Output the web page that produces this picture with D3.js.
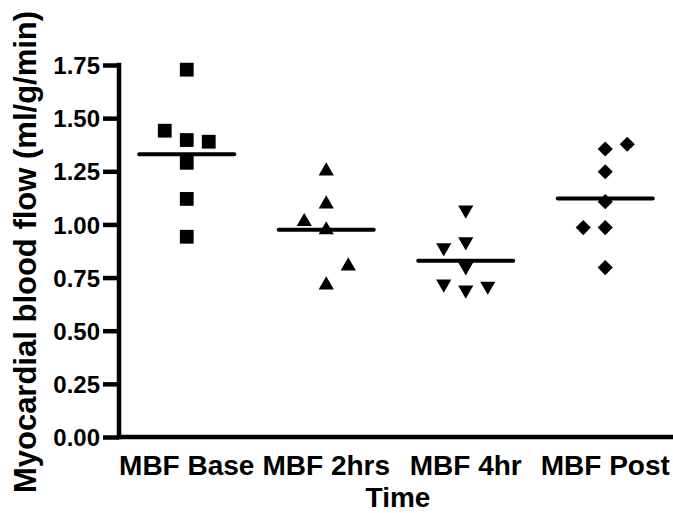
<!DOCTYPE html>
<html>
<head>
<meta charset="utf-8">
<script src="https://cdn.jsdelivr.net/npm/d3@7"></script>
<style>
  body { margin: 0; background: #fff; }
  text { font-family: "Liberation Sans", Arial, sans-serif; font-weight: bold; fill: #000; }
</style>
</head>
<body>
<svg id="chart" width="673" height="513"></svg>
<script>
// ---- data ----
const categories = ["MBF Base", "MBF 2hrs", "MBF 4hr", "MBF Post"];
const baseValues = [1.728, 1.441, 1.397, 1.389, 1.290, 1.120, 0.942];
const baseDodge  = [0, -1, 0, 1, 0, 0, 0];
const hrs2Values = [1.251, 1.096, 1.013, 0.974, 0.804, 0.715];
const hrs2Dodge  = [0, 0, -1, 0, 1, 0];
const hr4Values  = [1.068, 0.919, 0.891, 0.801, 0.720, 0.692, 0.710];
const hr4Dodge   = [0, 0, -1, 0, -1, 0, 1];
const postValues = [1.377, 1.355, 1.248, 1.107, 0.985, 0.985, 0.797];
const postDodge  = [1, 0, 0, 0, -1, 0, 0];
const yTicks = [0, 0.25, 0.5, 0.75, 1.0, 1.25, 1.5, 1.75];
const yTitle = "Myocardial blood flow (ml/g/min)";
const xTitle = "Time";

const groups = [
  { cat: categories[0], values: baseValues, dodge: baseDodge, shape: "square" },
  { cat: categories[1], values: hrs2Values, dodge: hrs2Dodge, shape: "triangle" },
  { cat: categories[2], values: hr4Values,  dodge: hr4Dodge,  shape: "triangleDown" },
  { cat: categories[3], values: postValues, dodge: postDodge, shape: "diamond" }
];

// ---- layout ----
const svg = d3.select("#chart");
const mLeft = 119, mRight = 673, mTop = 65, mBottom = 437;
const x = d3.scaleBand().domain(categories).range([mLeft - 2, mRight + 2]);
const y = d3.scaleLinear().domain([0, 1.75]).range([mBottom, mTop]);
const dodgeStep = 22;
const lw = 4.5;

// y axis
const yAxis = svg.append("g").attr("transform", `translate(${mLeft},0)`)
  .call(d3.axisLeft(y).tickValues(yTicks).tickFormat(d3.format(".2f")).tickSize(16).tickPadding(3));
yAxis.select(".domain").remove();
yAxis.selectAll(".tick line").attr("stroke", "#000").attr("stroke-width", lw);
yAxis.selectAll(".tick text").style("font-size", "24px").attr("dy", "0.36em");
yAxis.append("line").attr("x1", 0).attr("x2", 0)
  .attr("y1", y(1.75) - lw / 2).attr("y2", mBottom + lw / 2)
  .attr("stroke", "#000").attr("stroke-width", lw);

// x axis
const xAxis = svg.append("g").attr("transform", `translate(0,${mBottom})`)
  .call(d3.axisBottom(x).tickSize(0).tickPadding(18));
xAxis.select(".domain").remove();
xAxis.selectAll(".tick text").style("font-size", "28px").attr("dy", "0.71em");
xAxis.append("line").attr("x1", mLeft - lw / 2).attr("x2", mRight)
  .attr("y1", 0).attr("y2", 0).attr("stroke", "#000").attr("stroke-width", lw);

// titles
svg.append("text").attr("transform", `translate(36,${(mTop + mBottom) / 2 + 1}) rotate(-90)`)
  .attr("text-anchor", "middle").style("font-size", "31px").text(yTitle);
svg.append("text").attr("x", (mLeft + mRight) / 2 + 2).attr("y", 507)
  .attr("text-anchor", "middle").style("font-size", "28px").text(xTitle);

// symbols
const symSquare = d3.symbol().type(d3.symbolSquare).size(190)();
const symTri = d3.symbol().type(d3.symbolTriangle).size(100)();
const symDiamond = d3.symbol().type(d3.symbolSquare).size(115)();
function shapePath(s) {
  if (s === "square") return { d: symSquare, rot: 0 };
  if (s === "triangle") return { d: symTri, rot: 0 };
  if (s === "triangleDown") return { d: symTri, rot: 180 };
  return { d: symDiamond, rot: 45 };
}

groups.forEach(g => {
  const cx = x(g.cat) + x.bandwidth() / 2;
  const sp = shapePath(g.shape);
  const pts = g.values.map((v, i) => ({ v, k: g.dodge[i] }));
  svg.append("g").selectAll("path").data(pts).join("path")
    .attr("d", sp.d)
    .attr("transform", d => `translate(${cx + d.k * dodgeStep},${y(d.v)}) rotate(${sp.rot})`)
    .attr("fill", "#000");
  const m = d3.mean(g.values);
  svg.append("line").attr("x1", cx - 47.5).attr("x2", cx + 47.5)
    .attr("y1", y(m)).attr("y2", y(m))
    .attr("stroke", "#000").attr("stroke-width", 4).attr("stroke-linecap", "round");
});
</script>
</body>
</html>
